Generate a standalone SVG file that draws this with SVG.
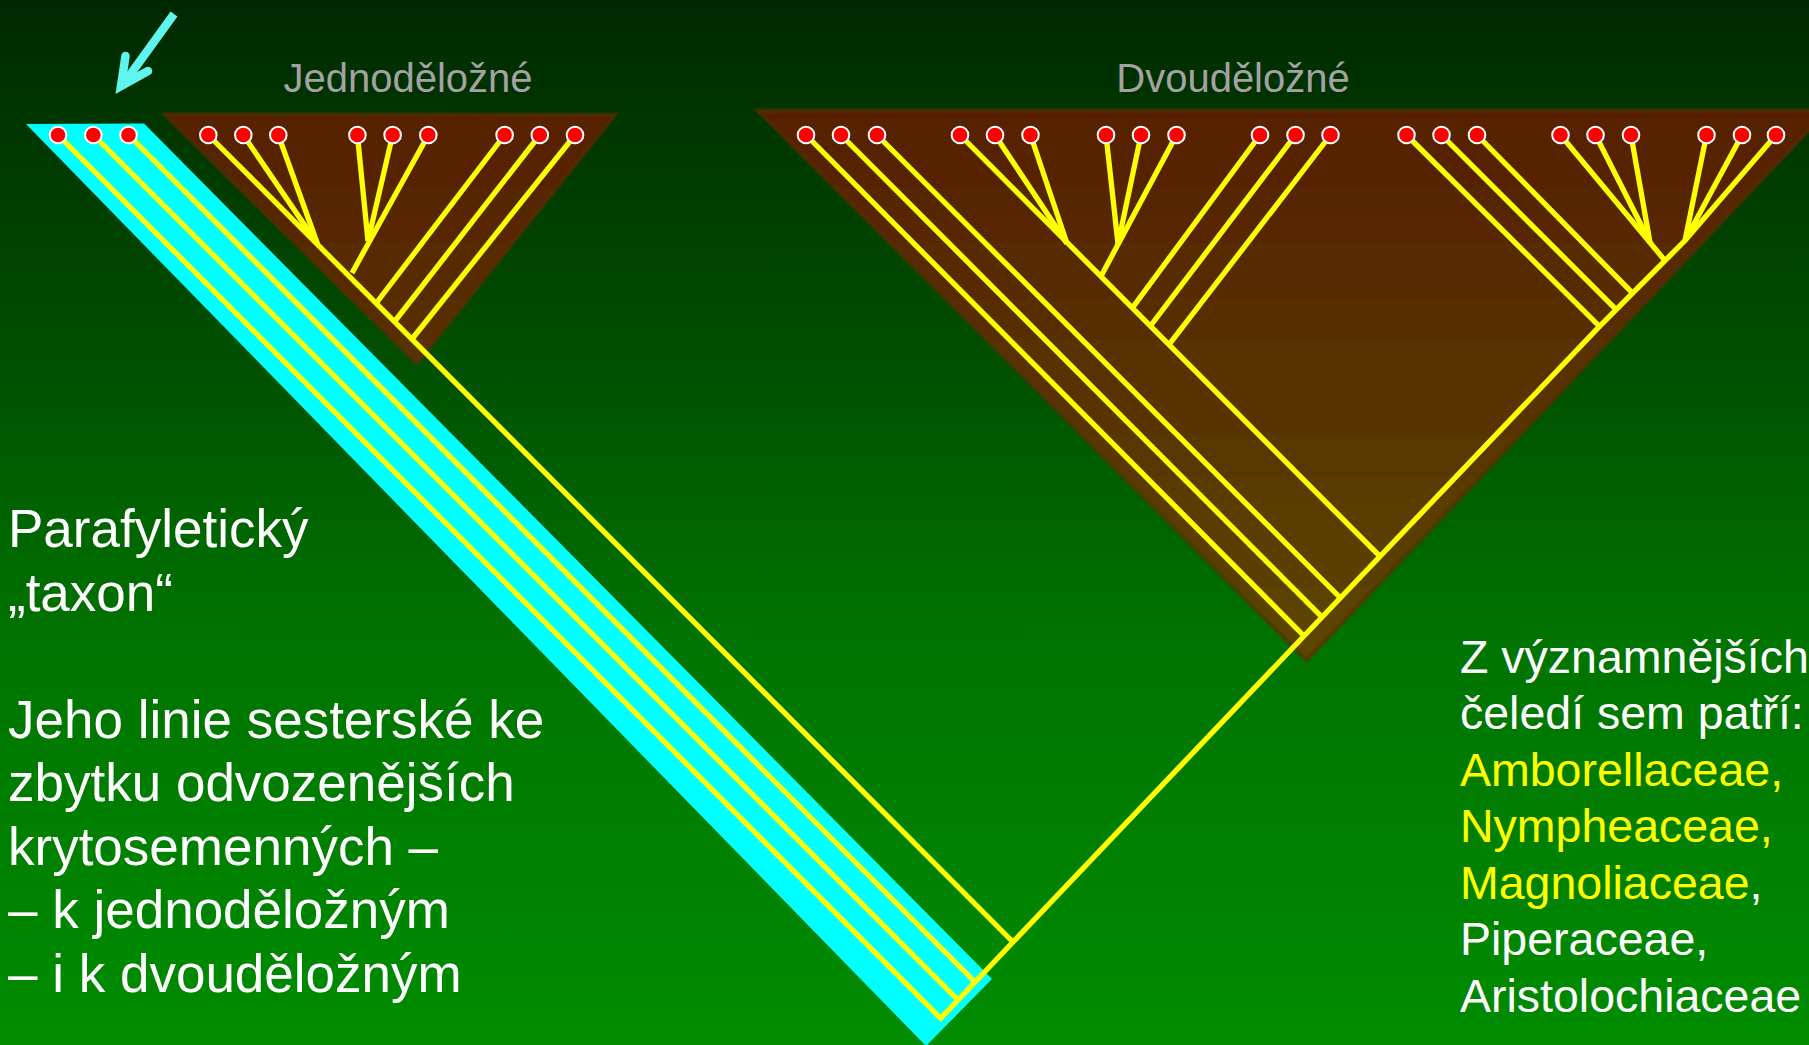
<svg xmlns="http://www.w3.org/2000/svg" width="1809" height="1045" viewBox="0 0 1809 1045">
  <defs>
    <linearGradient id="bg" x1="0" y1="0" x2="0" y2="1">
      <stop offset="0" stop-color="#002800"/>
      <stop offset="0.36" stop-color="#005200"/>
      <stop offset="0.62" stop-color="#007400"/>
      <stop offset="1" stop-color="#008c00"/>
    </linearGradient>
    <linearGradient id="cladeFill" gradientUnits="userSpaceOnUse" x1="0" y1="110" x2="0" y2="660">
      <stop offset="0" stop-color="#571f00"/>
      <stop offset="1" stop-color="#5b4700"/>
    </linearGradient>
    <filter id="soft" x="-5%" y="-5%" width="110%" height="110%">
      <feGaussianBlur stdDeviation="1.2"/>
    </filter>
  </defs>
  <style>
    .clade { fill: url(#cladeFill); stroke: #5e2c08; stroke-width: 4; stroke-opacity: 0.7; filter: url(#soft); }
    .basal { fill: #00ffff; }
    .br { fill: none; stroke: #ffff00; stroke-width: 5.3; stroke-linejoin: miter; stroke-linecap: butt; }
    .tip { fill: #ff0000; stroke: #ffffff; stroke-width: 2; }
    .label { font-family: "Liberation Sans", Arial, sans-serif; font-size: 40px; fill: #a3a3a3; text-anchor: middle; }
    .note { font-family: "Liberation Sans", Arial, sans-serif; fill: #ffffff; }
    .big { font-size: 53px; }
    .mid { font-size: 46.5px; }
    .hl { fill: #ffff00; }
    .ptr { fill: none; stroke: #5ff5ef; stroke-width: 8.5; }
  </style>

  <!-- backdrop -->
  <rect width="1809" height="1045" fill="url(#bg)"/>

  <!-- basal grade band -->
  <g id="clade-basal">
    <polygon class="basal" points="26,124 144,123.5 992,979 926,1046"/>
  </g>

  <!-- monocot clade -->
  <g id="clade-monocots">
    <polygon class="clade" points="165,114.5 614.8,115 416.7,363.3"/>
    <text class="label" x="408" y="92">Jednoděložné</text>
  </g>

  <!-- dicot clade -->
  <g id="clade-dicots">
    <polygon class="clade" points="758,110.7 1827,110.7 1306.7,660"/>
    <text class="label" x="1233" y="92">Dvouděložné</text>
  </g>

  <!-- branches -->
  <g id="connectors">
    <!-- main backbone: basal tip down to the root, then up to the last dicot tip -->
    <polyline class="br" points="58,135 940.7,1018.3 1013,942 1304,636 1599.5,326.4 1685,240.5 1776,135"/>
    <line class="br" x1="93.3" y1="135" x2="958" y2="1000"/>
    <line class="br" x1="128.5" y1="135" x2="975" y2="982"/>

    <!-- monocots -->
    <line class="br" x1="208.3" y1="135" x2="1013" y2="942"/>
    <line class="br" x1="243.3" y1="135" x2="317.5" y2="244"/>
    <line class="br" x1="278.3" y1="135" x2="317.5" y2="244"/>
    <line class="br" x1="357.4" y1="135" x2="368" y2="241"/>
    <line class="br" x1="392.6" y1="135" x2="368" y2="241"/>
    <line class="br" x1="428.3" y1="135" x2="352" y2="273"/>
    <line class="br" x1="504.6" y1="135" x2="376.7" y2="302.5"/>
    <line class="br" x1="539.8" y1="135" x2="395" y2="321"/>
    <line class="br" x1="575" y1="135" x2="412" y2="339"/>

    <!-- dicots -->
    <line class="br" x1="806" y1="135" x2="1304" y2="636"/>
    <line class="br" x1="841" y1="135" x2="1322" y2="617.2"/>
    <line class="br" x1="877" y1="135" x2="1340.5" y2="598"/>
    <line class="br" x1="960" y1="135" x2="1380" y2="556.4"/>
    <line class="br" x1="995" y1="135" x2="1067" y2="243.5"/>
    <line class="br" x1="1030.5" y1="135" x2="1067" y2="243.5"/>
    <line class="br" x1="1106" y1="135" x2="1118" y2="244"/>
    <line class="br" x1="1141" y1="135" x2="1118" y2="244"/>
    <line class="br" x1="1176.5" y1="135" x2="1100.7" y2="276.8"/>
    <line class="br" x1="1260" y1="135" x2="1132" y2="308.4"/>
    <line class="br" x1="1295.5" y1="135" x2="1150" y2="326.5"/>
    <line class="br" x1="1330.5" y1="135" x2="1168.6" y2="345.2"/>
    <line class="br" x1="1406.5" y1="135" x2="1599.5" y2="326.4"/>
    <line class="br" x1="1441.5" y1="135" x2="1616.2" y2="309.6"/>
    <line class="br" x1="1477" y1="135" x2="1632.6" y2="293.2"/>
    <line class="br" x1="1560.5" y1="135" x2="1665" y2="260.6"/>
    <line class="br" x1="1595.5" y1="135" x2="1650" y2="242.5"/>
    <line class="br" x1="1631" y1="135" x2="1650" y2="242.5"/>
    <line class="br" x1="1706.5" y1="135" x2="1685" y2="240.5"/>
    <line class="br" x1="1742" y1="135" x2="1685" y2="240.5"/>
  </g>

  <!-- terminal taxa -->
  <g id="tips-basal">
    <circle class="tip" cx="58" cy="135" r="8.3"/>
    <circle class="tip" cx="93.3" cy="135" r="8.3"/>
    <circle class="tip" cx="128.5" cy="135" r="8.3"/>
  </g>
  <g id="tips-monocots">
    <circle class="tip" cx="208.3" cy="135" r="8.3"/>
    <circle class="tip" cx="243.3" cy="135" r="8.3"/>
    <circle class="tip" cx="278.3" cy="135" r="8.3"/>
    <circle class="tip" cx="357.4" cy="135" r="8.3"/>
    <circle class="tip" cx="392.6" cy="135" r="8.3"/>
    <circle class="tip" cx="428.3" cy="135" r="8.3"/>
    <circle class="tip" cx="504.6" cy="135" r="8.3"/>
    <circle class="tip" cx="539.8" cy="135" r="8.3"/>
    <circle class="tip" cx="575" cy="135" r="8.3"/>
  </g>
  <g id="tips-dicots">
    <circle class="tip" cx="806" cy="135" r="8.3"/>
    <circle class="tip" cx="841" cy="135" r="8.3"/>
    <circle class="tip" cx="877" cy="135" r="8.3"/>
    <circle class="tip" cx="960" cy="135" r="8.3"/>
    <circle class="tip" cx="995" cy="135" r="8.3"/>
    <circle class="tip" cx="1030.5" cy="135" r="8.3"/>
    <circle class="tip" cx="1106" cy="135" r="8.3"/>
    <circle class="tip" cx="1141" cy="135" r="8.3"/>
    <circle class="tip" cx="1176.5" cy="135" r="8.3"/>
    <circle class="tip" cx="1260" cy="135" r="8.3"/>
    <circle class="tip" cx="1295.5" cy="135" r="8.3"/>
    <circle class="tip" cx="1330.5" cy="135" r="8.3"/>
    <circle class="tip" cx="1406.5" cy="135" r="8.3"/>
    <circle class="tip" cx="1441.5" cy="135" r="8.3"/>
    <circle class="tip" cx="1477" cy="135" r="8.3"/>
    <circle class="tip" cx="1560.5" cy="135" r="8.3"/>
    <circle class="tip" cx="1595.5" cy="135" r="8.3"/>
    <circle class="tip" cx="1631" cy="135" r="8.3"/>
    <circle class="tip" cx="1706.5" cy="135" r="8.3"/>
    <circle class="tip" cx="1742" cy="135" r="8.3"/>
    <circle class="tip" cx="1776" cy="135" r="8.3"/>
  </g>

  <!-- pointer to the basal band -->
  <g id="pointer">
    <line class="ptr" x1="174" y1="14" x2="122" y2="86"/>
    <path class="ptr" d="M125.5,56 L121,86 L148,71" stroke-linejoin="miter" stroke-linecap="round"/>
  </g>

  <!-- explanatory notes -->
  <g id="note-left" class="note big">
    <text x="8" y="547">Parafyletický</text>
    <text x="8" y="610.5">„taxon“</text>
    <text x="8" y="737.5">Jeho linie sesterské ke</text>
    <text x="8" y="801">zbytku odvozenějších</text>
    <text x="8" y="864.5">krytosemenných –</text>
    <text x="8" y="928">– k jednoděložným</text>
    <text x="8" y="991.5">– i k dvouděložným</text>
  </g>
  <g id="note-right" class="note mid">
    <text x="1460" y="672.7">Z významnějších</text>
    <text x="1460" y="729">čeledí sem patří:</text>
    <text x="1460" y="785.5" class="hl">Amborellaceae,</text>
    <text x="1460" y="842" class="hl">Nympheaceae,</text>
    <text x="1460" y="898.5"><tspan class="hl">Magnoliaceae</tspan>,</text>
    <text x="1460" y="955">Piperaceae,</text>
    <text x="1460" y="1011.5">Aristolochiaceae</text>
  </g>
</svg>
